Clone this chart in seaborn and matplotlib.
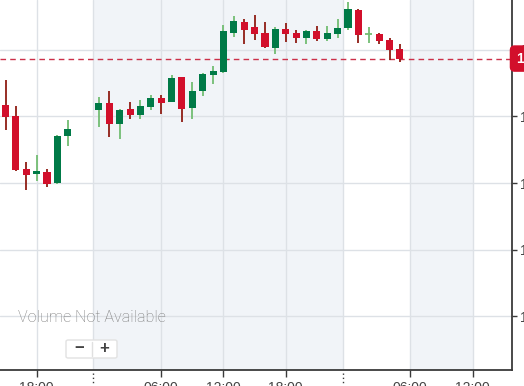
import numpy as np
import pandas as pd
import matplotlib
matplotlib.use("Agg")
import matplotlib.pyplot as plt
import seaborn as sns
from matplotlib.patches import FancyBboxPatch

# ---------------- data ----------------
# hourly candles (hour offset from first candle, 15:00 day 1); 22:00/23:00 missing
pos = [0, 1, 2, 3, 4, 5, 6,
       9, 10, 11, 12, 13, 14, 15, 16, 17, 18, 19, 20, 21, 22, 23, 24, 25, 26,
       27, 28, 29, 30, 31, 32, 33, 34, 35, 36, 37, 38]
opens = [1.12417, 1.12401, 1.12321, 1.12313, 1.12316, 1.12300, 1.12370,
         1.12410, 1.12420, 1.12389, 1.12411, 1.12402, 1.12414, 1.12428, 1.12422,
         1.12459, 1.12413, 1.12438, 1.12462, 1.12467, 1.12525, 1.12542, 1.12534,
         1.12525, 1.12503, 1.12531, 1.12525, 1.12518, 1.12528, 1.12516, 1.12524,
         1.12533, 1.12560, 1.12524, 1.12524, 1.12515, 1.12501]
highs = [1.12455, 1.12416, 1.12331, 1.12342, 1.12321, 1.12372, 1.12395,
         1.12429, 1.12438, 1.12411, 1.12422, 1.12425, 1.12432, 1.12432, 1.12462,
         1.12460, 1.12452, 1.12465, 1.12476, 1.12537, 1.12551, 1.12546, 1.12552,
         1.12542, 1.12534, 1.12540, 1.12530, 1.12530, 1.12536, 1.12536, 1.12546,
         1.12572, 1.12561, 1.12534, 1.12525, 1.12518, 1.12509]
lows = [1.12380, 1.12318, 1.12289, 1.12303, 1.12294, 1.12299, 1.12355,
        1.12384, 1.12369, 1.12366, 1.12396, 1.12396, 1.12410, 1.12404, 1.12421,
        1.12392, 1.12396, 1.12431, 1.12449, 1.12466, 1.12519, 1.12509, 1.12515,
        1.12503, 1.12494, 1.12512, 1.12510, 1.12509, 1.12514, 1.12513, 1.12518,
        1.12530, 1.12510, 1.12510, 1.12509, 1.12485, 1.12482]
closes = [1.12399, 1.12319, 1.12312, 1.12318, 1.12298, 1.12370, 1.12381,
          1.12420, 1.12389, 1.12410, 1.12402, 1.12416, 1.12428, 1.12420, 1.12458,
          1.12411, 1.12438, 1.12464, 1.12468, 1.12528, 1.12543, 1.12530, 1.12524,
          1.12504, 1.12531, 1.12524, 1.12518, 1.12528, 1.12516, 1.12525, 1.12533,
          1.12561, 1.12522, 1.12524, 1.12513, 1.12500, 1.12487]
last_price = 1.12487

xtick_pos = [3, 15, 21, 27, 39, 45]
xtick_labels = ["18:00", "06:00", "12:00", "18:00", "06:00", "12:00"]
day_breaks = [8.45, 32.5]
shaded = [(8.45, 32.5), (39, 45)]
ytick_vals = [1.1250, 1.1240, 1.1230, 1.1220, 1.1210]

df = pd.DataFrame({"pos": pos, "open": opens, "high": highs,
                   "low": lows, "close": closes})

# ---------------- style ----------------
sns.set_theme(style="white")
plt.rcParams["font.family"] = ["Liberation Sans", "DejaVu Sans"]

RED = "#d20f2b"
RED_WICK = "#8f1d14"
GREEN = "#007a47"
GREEN_WICK = "#72bd72"
GRID = "#dde1e6"
SHADE = "#f1f4f8"
AXIS = "#3a3a3a"

W, H = 524, 386
fig = plt.figure(figsize=(W / 100, H / 100), dpi=100)
ax = fig.add_axes([0, 16 / H, 512 / W, 370 / H])

ax.set_xlim(-0.53, 48.8)
ax.set_ylim(1.12019, 1.12575)

for a, b in shaded:
    ax.axvspan(a, b, color=SHADE, zorder=0, lw=0)

for y in ytick_vals:
    ax.axhline(y, color=GRID, lw=1, zorder=1)
for x in xtick_pos + day_breaks:
    ax.axvline(x, color=GRID, lw=1, zorder=1)

# current price line
ax.axhline(last_price, color="#cc3049", lw=1, ls=(0, (4, 3)), zorder=2)

# candles
body_w = 0.68
for _, r in df.iterrows():
    is_up = r["close"] > r["open"]
    is_doji = r["close"] == r["open"]
    wc = GREEN_WICK if (is_up or is_doji) else RED_WICK
    ax.vlines(r["pos"], r["low"], r["high"], color=wc, lw=1.3, zorder=3)
    if is_doji:
        ax.hlines(r["open"], r["pos"] - body_w / 2, r["pos"] + body_w / 2,
                  color=wc, lw=1.3, zorder=4)
    else:
        lo = min(r["open"], r["close"])
        ax.bar(r["pos"], abs(r["close"] - r["open"]), bottom=lo, width=body_w,
               color=GREEN if is_up else RED, lw=0, zorder=4)

# axes styling
for s in ["left", "top"]:
    ax.spines[s].set_visible(False)
for s in ["right", "bottom"]:
    ax.spines[s].set_color(AXIS)
    ax.spines[s].set_linewidth(1.3)

ax.yaxis.tick_right()
ax.set_yticks(ytick_vals)
ax.set_yticklabels([f"{v:.4f}" for v in ytick_vals])
ax.tick_params(axis="y", which="both", right=True, length=3.5, width=1,
               color=AXIS, labelsize=10, labelcolor="#444444", pad=2)
ax.set_xticks(xtick_pos)
ax.set_xticklabels(xtick_labels)
ax.tick_params(axis="x", which="both", bottom=True, length=5, width=1,
               color=AXIS, labelsize=10, labelcolor="#444444", pad=3)
ax.grid(False)

# dotted day-break ticks
for x in day_breaks:
    ax.plot([x, x], [-0.008, -0.04], transform=ax.get_xaxis_transform(),
            color=AXIS, lw=1, ls=(0, (1, 2)), clip_on=False, zorder=5)

# last price label
ax.annotate(f"{last_price:.5f}", xy=(1.0, last_price),
            xycoords=ax.get_yaxis_transform(), xytext=(4, 0),
            textcoords="offset pixels",
            ha="left", va="center", color="white", fontsize=10, fontweight="bold",
            bbox=dict(boxstyle="round,pad=0.4,rounding_size=0.3", fc=RED, ec=RED),
            annotation_clip=False, zorder=10)

# volume text
fig.text(18 / W, 1 - 317 / H, "Volume Not Available", fontsize=11.6,
         color="#7a7a7a", family=["Roboto", "DejaVu Sans"], fontweight="light",
         ha="left", va="center")

# zoom buttons
btn = FancyBboxPatch((66 / W, 1 - 358 / H), 51 / W, 18 / H,
                     boxstyle="round,pad=0,rounding_size=0.004",
                     transform=fig.transFigure, fc="white", ec="#e2e2e2",
                     lw=1, zorder=20)
fig.patches.append(btn)
fig.add_artist(plt.Line2D([92 / W, 92 / W], [1 - 356 / H, 1 - 342 / H],
                          transform=fig.transFigure, color="#e0e0e0", lw=1,
                          zorder=21))
fig.text(79 / W, 1 - 349 / H, "\u2212", fontsize=12, color="#444444",
         ha="center", va="center", fontweight="bold", zorder=22)
fig.text(104 / W, 1 - 349 / H, "+", fontsize=12, color="#444444",
         ha="center", va="center", fontweight="bold", zorder=22)

fig.savefig("out.png", dpi=100)
